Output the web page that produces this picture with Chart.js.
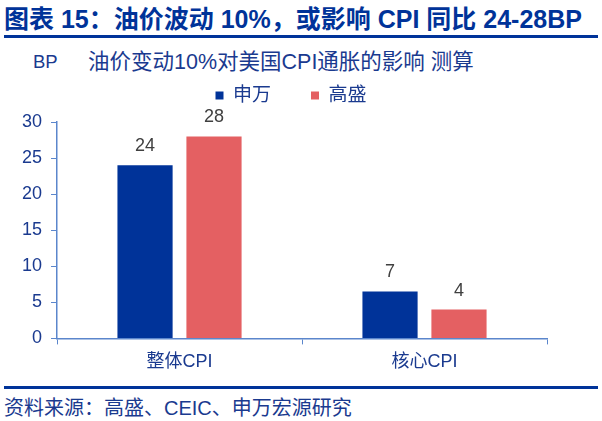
<!DOCTYPE html>
<html>
<head>
<meta charset="utf-8">
<script src="https://cdn.jsdelivr.net/npm/chart.js@4.4.1/dist/chart.umd.min.js"></script>
<style>
  body { margin: 0; background: #fff; width: 602px; height: 421px; overflow: hidden; position: relative;
         font-family: "Liberation Sans", "Noto Sans CJK SC", sans-serif; }
  #title { position: absolute; left: 4px; top: 4px; font-size: 25px; line-height: 30px; font-weight: bold; color: #003399; white-space: nowrap; }
  .rule { position: absolute; left: 4px; width: 594px; height: 3px; background: #003399; }
  #bp { position: absolute; left: 33px; top: 51px; font-size: 18.5px; line-height: 22px; color: #1a3a8f; }
  #sub { position: absolute; left: 88px; top: 49px; font-size: 21.5px; line-height: 26px; color: #1a3a8f; white-space: nowrap; }
  #source { position: absolute; left: 4px; top: 396px; font-size: 20px; line-height: 24px; color: #1a3a8f; white-space: nowrap; }
  #wrap { position: absolute; left: 0; top: 46px; width: 602px; height: 334px; }
</style>
</head>
<body>
<div id="title">图表 15：油价波动 10%，或影响 CPI 同比 24-28BP</div>
<div class="rule" style="top:35px"></div>
<div id="bp">BP</div>
<div id="sub">油价变动10%对美国CPI通胀的影响 测算</div>
<div id="wrap"><canvas id="barChart"></canvas></div>
<div class="rule" style="top:386px"></div>
<div id="source">资料来源：高盛、CEIC、申万宏源研究</div>

<script>
let categories = ['整体CPI', '核心CPI'];
let shenwan = [24, 6.5];
let goldman = [28, 4];
let shenwanLabels = ['24', '7'];
let goldmanLabels = ['28', '4'];

let axisColor = '#5b86cc';
let textBlue = '#1a3a8f';
let fontFam = '"Liberation Sans", "Noto Sans CJK SC", sans-serif';

// simple value labels above the bars
let barLabels = {
  id: 'barLabels',
  afterDatasetsDraw(chart) {
    let ctx = chart.ctx;
    ctx.save();
    ctx.font = '18px "Liberation Sans", sans-serif';
    ctx.fillStyle = '#404040';
    ctx.textAlign = 'center';
    ctx.textBaseline = 'bottom';
    chart.data.datasets.forEach((ds, i) => {
      chart.getDatasetMeta(i).data.forEach((bar, j) => {
        ctx.fillText(ds.labels[j], bar.x, bar.y - 10);
      });
    });
    ctx.restore();
  }
};

// a bit more room under the legend, and nudge it right like the original
let legendTweak = {
  id: 'legendTweak',
  afterInit(chart) {
    let legend = chart.legend;
    let origFit = legend.fit;
    legend.fit = function () {
      origFit.call(this);
      this.height += 7;
    };
  },
  afterLayout(chart) {
    chart.legend.left += 11;
    chart.legend.right += 11;
  }
};

let chartData = {
  labels: categories,
  datasets: [{
    label: '申万',
    data: shenwan,
    labels: shenwanLabels,
    backgroundColor: '#003399'
  }, {
    label: '高盛',
    data: goldman,
    labels: goldmanLabels,
    backgroundColor: '#e46062'
  }]
};

let barChart = new Chart(document.getElementById('barChart'), {
  type: 'bar',
  data: chartData,
  plugins: [barLabels, legendTweak],
  options: {
    responsive: true,
    maintainAspectRatio: false,
    animation: false,
    datasets: {
      bar: { categoryPercentage: 0.563, barPercentage: 0.8 }
    },
    layout: { padding: { left: 13, right: 55, top: 0, bottom: 0 } },
    plugins: {
      legend: {
        display: true,
        position: 'top',
        labels: {
          boxWidth: 8,
          boxHeight: 8,
          padding: 40,
          color: textBlue,
          font: { size: 19, family: fontFam }
        }
      },
      tooltip: { enabled: false }
    },
    scales: {
      x: {
        grid: { display: true, drawOnChartArea: false, color: axisColor, tickLength: 6, offset: true },
        border: { color: axisColor, width: 1.5 },
        ticks: { color: textBlue, padding: 7, font: { size: 18, family: fontFam } }
      },
      y: {
        min: 0,
        max: 30,
        grid: { display: true, drawOnChartArea: false, color: axisColor, tickLength: 6 },
        border: { color: axisColor, width: 1.5 },
        ticks: { stepSize: 5, color: textBlue, padding: 9, font: { size: 18, family: fontFam } }
      }
    }
  }
});
</script>
</body>
</html>
